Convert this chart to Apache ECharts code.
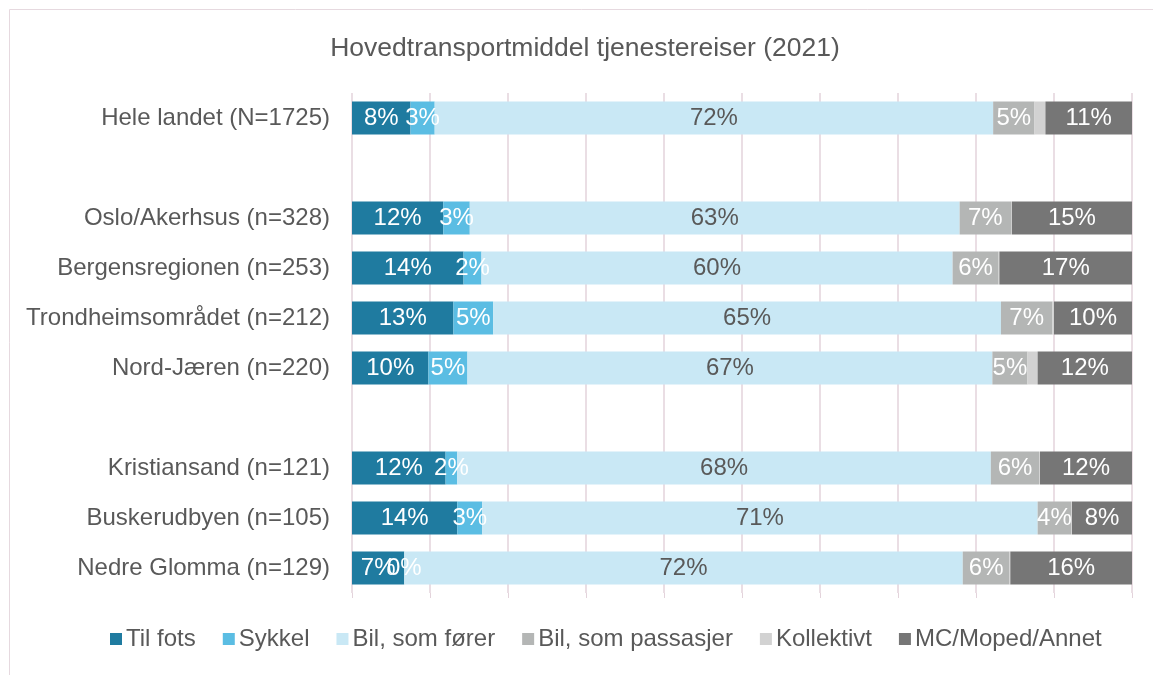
<!DOCTYPE html>
<html>
<head>
<meta charset="utf-8">
<script src="https://cdn.jsdelivr.net/npm/echarts@6/dist/echarts.min.js"></script>
<style>
  html, body { margin: 0; padding: 0; background: #fff; }
  #chart { width: 1153px; height: 675px; }
</style>
</head>
<body>
<div id="chart"></div>
<script>
// rader (tomme navn gir mellomrom mellom gruppene)
const regions = [
  'Hele landet (N=1725)',
  '',
  'Oslo/Akerhsus (n=328)',
  'Bergensregionen (n=253)',
  'Trondheimsområdet (n=212)',
  'Nord-Jæren (n=220)',
  '',
  'Kristiansand (n=121)',
  'Buskerudbyen (n=105)',
  'Nedre Glomma (n=129)'
]

const tilFots =   [7.5, null, 11.7, 14.3, 13.0, 9.8, null, 12.0, 13.5, 6.7]
const sykkel =    [3.1, null, 3.4, 2.3, 5.1, 5.0, null, 1.5, 3.2, 0]
const bilForer =  [71.6, null, 62.8, 60.4, 65.1, 67.3, null, 68.4, 71.2, 71.6]
const bilPass =   [5.3, null, 6.6, 5.9, 6.6, 4.5, null, 6.2, 4.3, 6.0]
const kollektivt = [1.4, null, 0.1, 0.1, 0.2, 1.3, null, 0.1, 0.1, 0.1]
const mcAnnet =   [11.1, null, 15.4, 17.2, 10.0, 12.1, null, 12.0, 7.7, 15.6]

const names = ['Til fots', 'Sykkel', 'Bil, som fører', 'Bil, som passasjer', 'Kollektivt', 'MC/Moped/Annet']
const colors = ['#1f7ba0', '#5bbde3', '#c9e8f5', '#b4b6b5', '#d2d2d2', '#767676']
const labelColors = ['#ffffff', '#ffffff', '#595959', '#ffffff', '#ffffff', '#ffffff']
const showLabel = [true, true, true, true, false, true]
const values = [tilFots, sykkel, bilForer, bilPass, kollektivt, mcAnnet]

const font = 'Liberation Sans, Arial, sans-serif'
const chart = echarts.init(document.getElementById('chart'))

const series = names.map(function (name, i) {
  return {
    name: name,
    type: 'bar',
    stack: 'total',
    barCategoryGap: '34%',
    itemStyle: { color: colors[i] },
    label: {
      show: showLabel[i],
      position: 'inside',
      color: labelColors[i],
      fontFamily: font,
      fontSize: 24,
      formatter: function (p) {
        if (p.value == null) return ''
        return Math.round(p.value) + '%'
      }
    },
    emphasis: { disabled: true },
    data: values[i]
  }
})

const option = {
  animation: false,
  color: colors,
  title: {
    text: 'Hovedtransportmiddel tjenestereiser (2021)',
    left: 580,
    textAlign: 'center',
    top: 30,
    textStyle: { fontFamily: font, fontSize: 26.5, fontWeight: 'normal', color: '#595959' }
  },
  graphic: [{
    type: 'rect',
    shape: { x: 9.5, y: 9.5, width: 1160, height: 700 },
    style: { fill: 'none', stroke: '#e6d9df', lineWidth: 1 },
    silent: true
  }],
  legend: {
    data: names,
    left: 105,
    top: 622,
    itemWidth: 12,
    itemHeight: 12,
    itemGap: 27,
    icon: 'rect',
    textStyle: { fontFamily: font, fontSize: 24, color: '#595959', padding: [0, 0, 0, -1] }
  },
  grid: {
    left: 352,
    right: 21,
    top: 93,
    height: 500,
    containLabel: false
  },
  xAxis: {
    type: 'value',
    min: 0,
    max: 100,
    interval: 10,
    axisLine: { show: false },
    axisTick: { show: true, length: 5, lineStyle: { color: '#e3d3db' } },
    axisLabel: { show: false },
    splitLine: { show: true, lineStyle: { color: '#e3d3db', width: 1.5 } }
  },
  yAxis: {
    type: 'category',
    inverse: true,
    data: regions,
    axisLine: { show: false },
    axisTick: { show: false },
    axisLabel: { fontFamily: font, fontSize: 24, color: '#595959', margin: 22 }
  },
  series: series
}

option && chart.setOption(option)
</script>
</body>
</html>
